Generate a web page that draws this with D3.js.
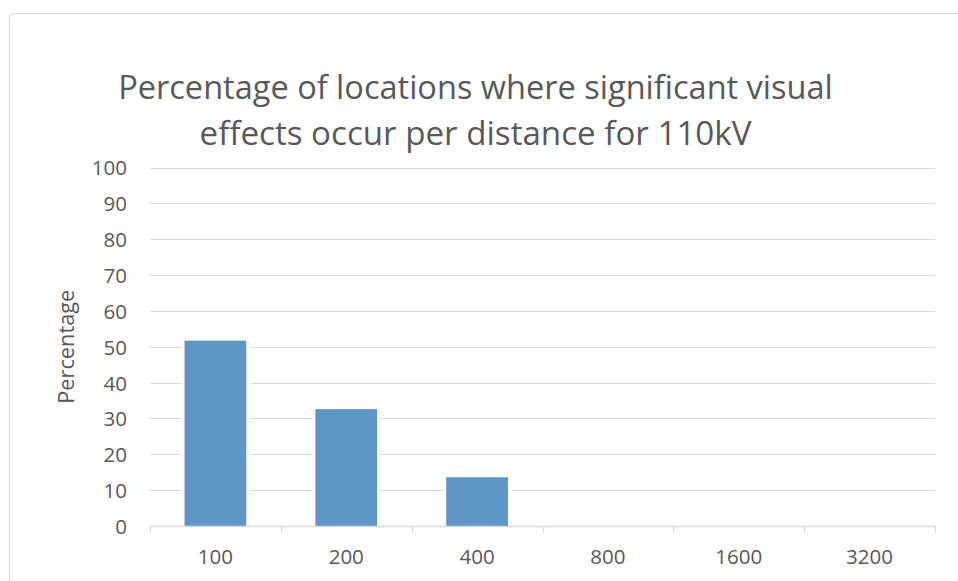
<!DOCTYPE html>
<html><head><meta charset="utf-8">
<script src="https://cdn.jsdelivr.net/npm/d3@7"></script>
<style>body{margin:0;background:#fff;}svg{display:block;font-family:"Open Sans",sans-serif;}</style>
</head><body><svg id="c" width="958" height="581"></svg>
<script>
const categories = ["100","200","400","800","1600","3200"];
const values = [51.7, 32.6, 13.6, 0, 0, 0];
const yTicks = [0,10,20,30,40,50,60,70,80,90,100];
const titleLines = ["Percentage of locations where significant visual","effects occur per distance for 110kV"];
const yLabel = "Percentage";

const svg = d3.select("#c");
const x0=150,x1=935,y0=526,y1=167.5;

svg.append("rect").attr("x",9.5).attr("y",13.5).attr("width",980).attr("height",600).attr("rx",4)
  .attr("fill","#fff").attr("stroke","#d9d9d9").attr("stroke-width",1.2);

const x=d3.scaleBand().domain(categories).range([x0,x1]).paddingInner(0.528).paddingOuter(0.264);
const y=d3.scaleLinear().domain([0,100]).range([y0,y1]);

function fit(sel, target, base){
  sel.attr("font-size",base);
  const l=sel.node().getComputedTextLength();
  sel.attr("font-size",base*target/l);
  return base*target/l;
}

// gridlines
svg.append("g").selectAll("line").data(yTicks.filter(d=>d>0)).join("line")
  .attr("x1",x0).attr("x2",x1).attr("y1",d=>Math.round(y(d))+0.5).attr("y2",d=>Math.round(y(d))+0.5)
  .attr("stroke","#d9d9d9").attr("stroke-width",1.2);

const data=values.map((v,i)=>({c:categories[i],v}));
svg.append("g").selectAll("rect").data(data.filter(d=>d.v>0)).join("rect")
  .attr("x",d=>x(d.c)-3.5).attr("width",x.bandwidth()+7)
  .attr("y",d=>y(d.v)-1).attr("height",d=>y0-y(d.v)+1).attr("fill","#fff");
svg.append("g").selectAll("rect").data(data).join("rect")
  .attr("x",d=>x(d.c)).attr("width",x.bandwidth())
  .attr("y",d=>y(d.v)).attr("height",d=>y0-y(d.v)).attr("fill","#5f96c8");

// measure label font size: "1600" should be ~47px wide
const probe=svg.append("text").text("1600");
const fs=fit(probe,47,20);
probe.remove();

// x axis
const xa=d3.axisBottom(x).tickSize(0).tickSizeOuter(0);
const gx=svg.append("g").attr("transform",`translate(0,${y0})`).call(xa);
gx.attr("font-family",null);
gx.select(".domain").attr("stroke","#d9d9d9").attr("stroke-width",1.4);
gx.selectAll(".tick text").attr("fill","#595959").attr("font-size",fs).attr("dy",0).attr("y",38);
const bounds=categories.map(c=>x(c)-x.step()*x.paddingInner()/2).concat([x1]);
bounds[0]=x0;
svg.append("g").selectAll("line").data(bounds).join("line")
  .attr("x1",d=>Math.round(d)+0.5).attr("x2",d=>Math.round(d)+0.5).attr("y1",y0).attr("y2",y0+7)
  .attr("stroke","#d9d9d9").attr("stroke-width",1.2);

// y axis labels
const ya=d3.axisLeft(y).tickValues(yTicks).tickSize(0);
const gy=svg.append("g").attr("transform",`translate(${x0},0)`).call(ya);
gy.attr("font-family",null);
gy.select(".domain").remove();
gy.selectAll(".tick text").attr("fill","#595959").attr("font-size",fs).attr("x",-23).attr("dy","0.36em");

const yl=svg.append("text").attr("transform",`translate(74,${(y0+y1)/2}) rotate(-90)`).attr("text-anchor","middle")
  .attr("fill","#595959").text(yLabel);
fit(yl,114,20);

const tw=[715,552];
titleLines.forEach((t,i)=>{
  const tx=svg.append("text").attr("x",475.5).attr("y",i?145:99).attr("text-anchor","middle")
    .attr("fill","#595959").text(t);
  fit(tx,tw[i],30);
});
</script></body></html>
